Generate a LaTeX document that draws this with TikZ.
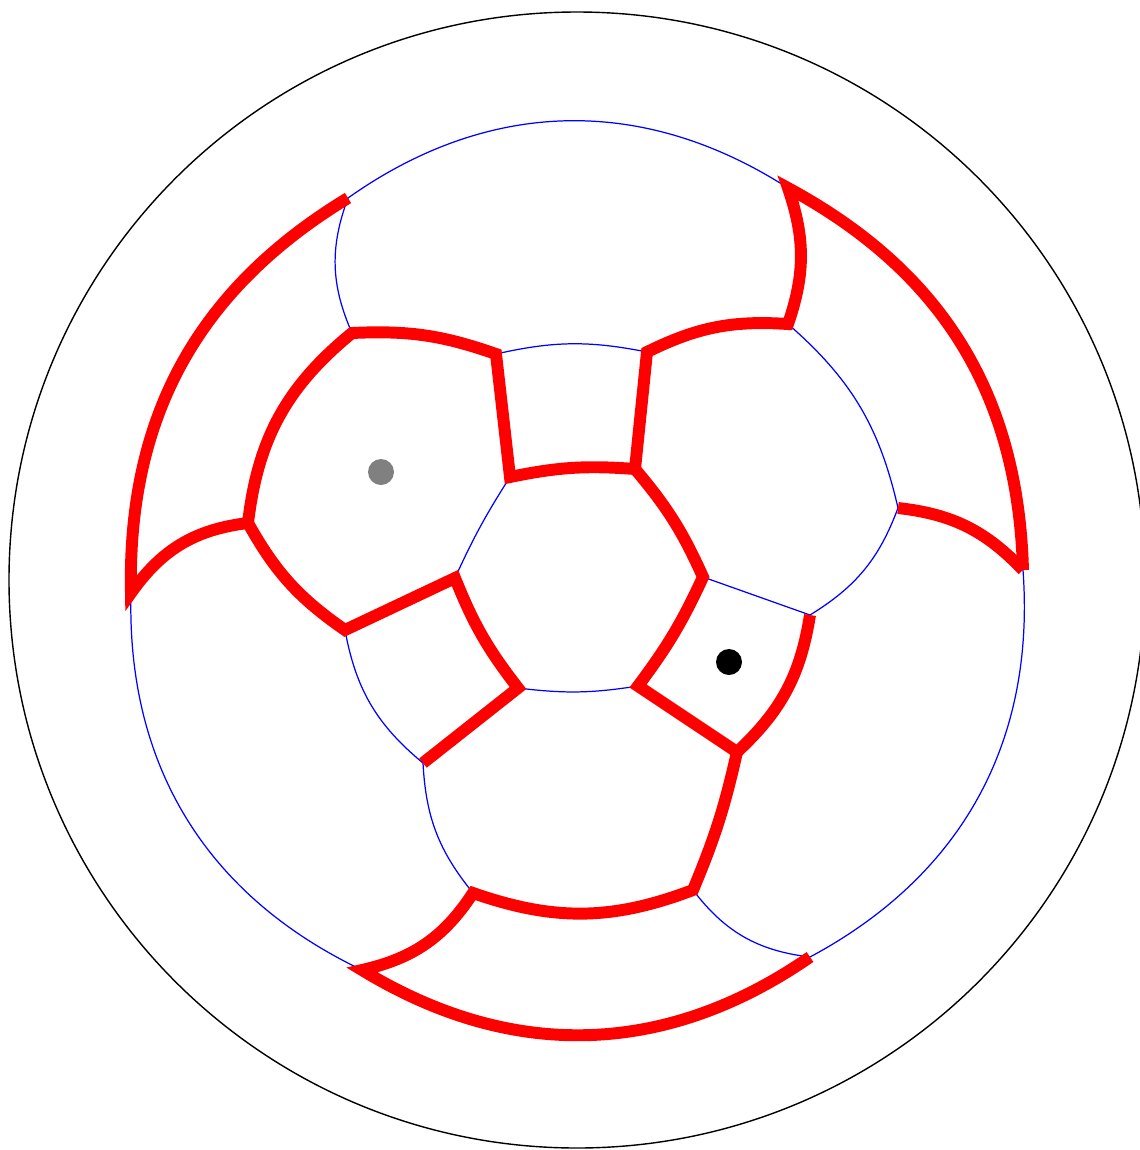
\documentclass[tikz,border=0pt]{standalone}
\usepackage{tikz}
\usetikzlibrary{calc}

\begin{document}
\begin{tikzpicture}[
  x=0.1mm, y=0.1mm,
  redge/.style={draw=red,line width=3.4pt,line join=miter},
  bedge/.style={draw=blue,line width=0.35pt},
  dot/.style={circle,inner sep=0pt,minimum size=2.6mm}]
  \useasboundingbox (0,0) rectangle (1140,-1150);
  % vertices of the graph (pixel grid, y downwards)
  \foreach \n/\x/\y in {A1/348/198, A2/788/188, A3/1023/570, A4/131/593,
      A5/362/970, A6/810/957, B1/352/333, B2/496/354, B3/248/523,
      B4/647/352, B5/788/324, B6/898/508, B7/810/615, B8/703/577,
      B9/737/752, B10/693/890, B11/473/893, B12/423/763, B13/345/630,
      B14/455/578, C1/510/477, C2/635/469, C4/638/686, C5/518/688}
    \coordinate (\n) at (\x,-\y);
  \coordinate (ctr) at (577,-580);
  \draw[line width=0.4pt] (ctr) circle (568);
  % thin edges
  \draw[bedge] (A1) to[bend left=34] (A2);
  \draw[bedge] (A1) to[bend right=22] (B1);
  \draw[bedge] (B2) to[bend left=12] (B4);
  \draw[bedge] (B5) to[bend left=18] (B6);
  \draw[bedge] (B6) to[bend left=19] (B7);
  \draw[bedge] (B7) -- (B8);
  \draw[bedge] (A3) to[bend left=33] (A6);
  \draw[bedge] (B10) to[bend right=23] (A6);
  \draw[bedge] (A4) to[bend right=33] (A5);
  \draw[bedge] (B11) to[bend left=18] (B12);
  \draw[bedge] (B12) to[bend left=20] (B13);
  \draw[bedge] (B14) to[bend left=4] (C1);
  \draw[bedge] (C4) to[bend left=8] (C5);
  % thick edges
  \draw[redge] (A1) to[bend right=30] (A4) to[bend left=24] (B3)
    to[bend left=22] (B1) to[bend left=11] (B2) -- (C1)
    to[bend left=8] (C2) -- (B4) to[bend left=15] (B5)
    to[bend right=19] (A2) to[bend left=30] (A3);
  \draw[redge] (B6) to[bend left=20] (A3);
  \draw[redge] (B7) to[bend left=19] (B9) -- (C4) to[bend right=6] (B8)
    to[bend right=8] (C2);
  \draw[redge] (B9) to[bend left=5] (B10) to[bend left=20] (B11)
    to[bend left=22] (A5) to[bend right=33] (A6);
  \draw[redge] (B3) to[bend right=13] (B13) -- (B14) to[bend right=8] (C5)
    -- (B12);
  \node[dot,fill=gray] (gdot) at (381,-472) {};
  \node[dot,fill=black] (bdot) at (729,-662) {};
\end{tikzpicture}
\end{document}
